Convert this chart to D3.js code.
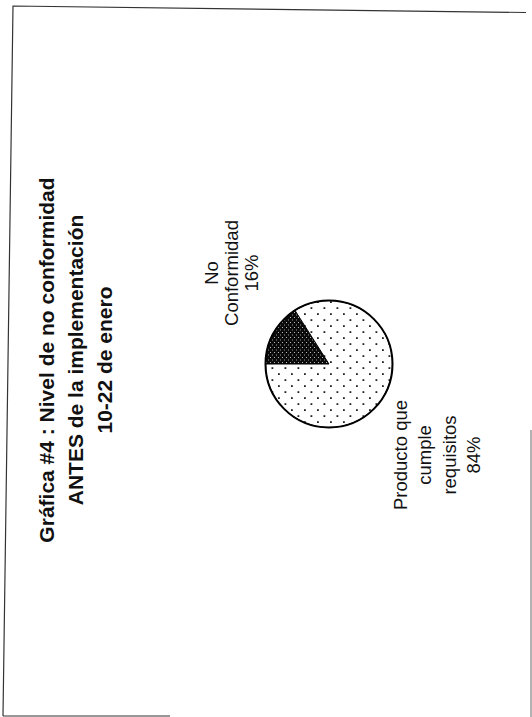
<!DOCTYPE html>
<html>
<head>
<meta charset="utf-8">
<script src="https://cdn.jsdelivr.net/npm/d3@7"></script>
<style>
  html, body { margin: 0; padding: 0; background: #fff; }
  svg { display: block; }
  text { font-family: "Liberation Sans", Arial, sans-serif; fill: #111; }
</style>
</head>
<body>
<svg id="chart" width="532" height="717"></svg>
<script>
// ---- data ----
const categories = ["No Conformidad", "Producto que cumple requisitos"];
const values = [16, 84];
const percentLabels = ["16%", "84%"];
const labelLines = [["No", "Conformidad"], ["Producto que", "cumple", "requisitos"]];
const titleLines = ["Gráfica #4 : Nivel de no conformidad", "ANTES de la implementación", "10-22 de enero"];

// ---- layout (unrotated frame, origin at pie centre) ----
const W = 532, H = 717;
const cx = 329, cy = 364, R = 63.5;
const labelPos = [{x: 91, y0: -111, step: 20}, {x: -91, y0: 77.5, step: 24.5}];
const titlePos = {x: 4, y0: -275, step: 29};

const svg = d3.select("#chart");
const defs = svg.append("defs");

// dotted pattern for the large slice
const pd = defs.append("pattern").attr("id", "dots").attr("patternUnits", "userSpaceOnUse")
  .attr("width", 12).attr("height", 13);
pd.append("rect").attr("width", 12).attr("height", 13).attr("fill", "#fff");
pd.append("rect").attr("x", 1).attr("y", 1).attr("width", 1.8).attr("height", 1.8).attr("fill", "#222");
pd.append("rect").attr("x", 7).attr("y", 7.5).attr("width", 1.8).attr("height", 1.8).attr("fill", "#222");

// dense dark pattern for the small slice
const pk = defs.append("pattern").attr("id", "dark").attr("patternUnits", "userSpaceOnUse")
  .attr("width", 5).attr("height", 4);
pk.append("rect").attr("width", 5).attr("height", 4).attr("fill", "#0a0a0a");
pk.append("rect").attr("x", 1).attr("y", 1).attr("width", 1).attr("height", 1).attr("fill", "#bbb");
pk.append("rect").attr("x", 3.5).attr("y", 3).attr("width", 1).attr("height", 1).attr("fill", "#999");

const fills = ["url(#dark)", "url(#dots)"];

// page border (scanned, slightly skewed)
const border = d3.line();
svg.append("path")
  .attr("d", border([[3, 716], [13, 6], [526, 12.5]]))
  .attr("fill", "none").attr("stroke", "#333").attr("stroke-width", 1.2);
svg.append("path")
  .attr("d", border([[3, 716], [170, 716]]))
  .attr("fill", "none").attr("stroke", "#333").attr("stroke-width", 1.2);
svg.append("path")
  .attr("d", border([[531, 430], [531, 717]]))
  .attr("fill", "none").attr("stroke", "#666").attr("stroke-width", 1);

// rotated chart group
const g = svg.append("g").attr("transform", `translate(${cx},${cy}) rotate(-90)`);

const pie = d3.pie().sort(null).value(d => d);
const arc = d3.arc().innerRadius(0).outerRadius(R);
const arcs = pie(values);

g.selectAll("path.slice").data(arcs).join("path")
  .attr("class", "slice")
  .attr("d", arc)
  .attr("fill", (d, i) => fills[i])
  .attr("stroke", "#000").attr("stroke-width", 1);

g.append("circle").attr("r", R).attr("fill", "none").attr("stroke", "#000").attr("stroke-width", 2);

// labels
arcs.forEach((d, i) => {
  const lines = labelLines[i].concat([percentLabels[i]]);
  const p = labelPos[i];
  const t = g.append("text").attr("text-anchor", "middle").style("font-size", "18.5px");
  lines.forEach((ln, k) => {
    t.append("tspan").attr("x", p.x).attr("y", p.y0 + k * p.step).text(ln);
  });
});

// title
const tt = g.append("text").attr("text-anchor", "middle")
  .style("font-size", "21px").style("font-weight", "bold");
titleLines.forEach((ln, k) => {
  tt.append("tspan").attr("x", titlePos.x).attr("y", titlePos.y0 + k * titlePos.step).text(ln);
});
</script>
</body>
</html>
